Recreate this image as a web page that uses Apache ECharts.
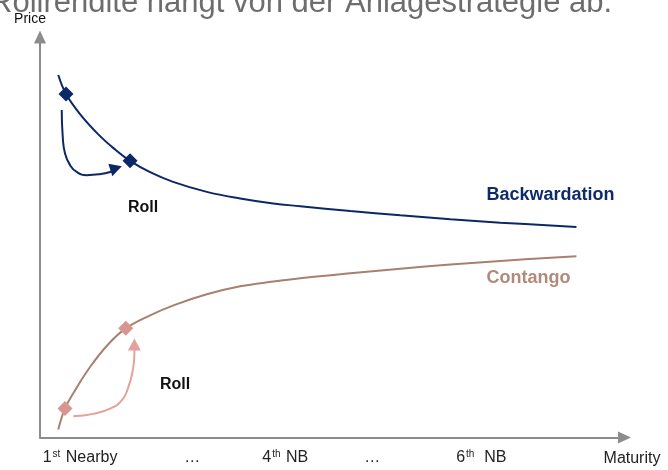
<!DOCTYPE html>
<html>
<head>
<meta charset="utf-8">
<script src="https://cdn.jsdelivr.net/npm/echarts@6/dist/echarts.min.js"></script>
<style>
html,body{margin:0;padding:0;background:#fff;}
#c{width:668px;height:470px;}
</style>
</head>
<body>
<div id="c"></div>
<script>
const titleText = 'Rollrendite hängt von der Anlagestrategie ab.';
const yAxisName = 'Price';
const xAxisName = 'Maturity';
const tickLabels = ['1{sup|st} Nearby', '…', '4{sup|th} NB', '…', '6{sup|th}  NB'];
const tickValues = [6.85, 26.03, 41.95, 56.85, 75.51];

const backwardation = [[3.13,90.5],[4.45,85.75],[6.85,80.75],[9.93,75.75],[12.67,72.13],[15.41,69.08],[18.84,66.25],[22.77,63.83],[28.54,61.33],[34.25,59.68],[39.90,58.43],[44.52,57.75],[53.08,56.55],[61.64,55.48],[70.21,54.5],[78.77,53.65],[91.78,52.58]];
const contango = [[3.13,2.0],[4.28,7.25],[5.99,11.75],[8.56,17.6],[11.64,23.23],[14.67,27.25],[18.84,30.5],[22.83,33.0],[28.54,35.75],[34.25,37.75],[39.95,38.93],[44.52,39.75],[53.08,41.0],[61.64,42.15],[70.21,43.18],[78.77,44.1],[91.78,45.28]];
const backwardationMarkers = [[4.45,85.75],[15.41,69.08]];
const contangoMarkers = [[4.28,7.25],[14.67,27.25]];
const rollBackwardation = [[3.72,81.75],[3.89,75.1],[4.28,70.9],[5.14,68.0],[6.28,66.3],[8.0,65.5],[10.27,65.75],[11.99,66.3],[13.01,67.0]];
const rollContango = [[5.70,5.3],[9.13,5.9],[11.99,7.2],[13.99,9.25],[15.12,12.6],[15.87,16.75],[16.15,20.9],[16.15,23.25]];
const arrowHeads = [[13.01,67.25,-72],[16.15,23.25,0]];
const annotationTexts = ['Backwardation', 'Contango', 'Roll', 'Roll'];
const annotationAnchors = [[87.33,60.5],[83.56,39.8],[17.64,57.5],[23.12,13.25]];

const FONT = '"Liberation Sans", Arial, sans-serif';
const NAVY = '#0b2766';
const BROWN = '#a9806f';
const PINK = '#d9958f';
const PINK_LIGHT = '#e3a29d';
const AXIS = '#8c8c8c';
const annotationStyles = [
  {color: '#0f2a68', fontSize: 18},
  {color: '#b08a7b', fontSize: 18},
  {color: '#111', fontSize: 16},
  {color: '#111', fontSize: 16}
];

const chart = echarts.init(document.getElementById('c'), null, {renderer: 'canvas'});
chart.setOption({
  animation: false,
  backgroundColor: '#fff',
  title: {
    text: titleText,
    left: -10,
    top: -12,
    padding: 0,
    textStyle: {fontFamily: FONT, fontSize: 31, fontWeight: 'normal', color: '#6d6d6d'}
  },
  grid: {left: 40, right: 43.5, top: 37, bottom: 32.5, containLabel: false},
  xAxis: {
    type: 'value', min: 0, max: 100,
    name: xAxisName, nameLocation: 'end', nameGap: 7.5,
    nameTextStyle: {fontFamily: FONT, fontSize: 16, color: '#222', align: 'center', verticalAlign: 'top', padding: [13, 0, 0, 0]},
    axisLine: {show: true, lineStyle: {color: AXIS, width: 2}, symbol: ['none', 'triangle'], symbolSize: [12, 13]},
    axisTick: {show: false},
    splitLine: {show: false},
    axisLabel: {
      show: true,
      customValues: tickValues,
      margin: 12,
      fontFamily: FONT, fontSize: 16, color: '#222',
      formatter: function (v) {
        let best = 0, d = Infinity;
        tickValues.forEach(function (t, i) { if (Math.abs(t - v) < d) { d = Math.abs(t - v); best = i; } });
        return tickLabels[best];
      },
      rich: {
        sup: {fontFamily: FONT, fontSize: 10, color: '#222', verticalAlign: 'top', padding: [0, 1, 0, 1]}
      }
    }
  },
  yAxis: {
    type: 'value', min: 0, max: 100,
    name: yAxisName, nameLocation: 'end', nameGap: 11,
    nameTextStyle: {fontFamily: FONT, fontSize: 14, color: '#111', padding: [0, 20, 0, 0]},
    axisLine: {show: true, lineStyle: {color: AXIS, width: 2}, symbol: ['none', 'triangle'], symbolSize: [12, 13]},
    axisTick: {show: false},
    splitLine: {show: false},
    axisLabel: {show: false}
  },
  series: [
    {type: 'line', name: 'Backwardation', data: backwardation, smooth: 0.4, showSymbol: false, symbol: 'none',
     lineStyle: {color: NAVY, width: 2}, z: 2},
    {type: 'line', name: 'Contango', data: contango, smooth: 0.4, showSymbol: false, symbol: 'none',
     lineStyle: {color: BROWN, width: 2}, z: 2},
    {type: 'line', name: 'Roll B', data: rollBackwardation, smooth: 0.5, symbol: 'none',
     lineStyle: {color: NAVY, width: 2}, z: 2},
    {type: 'line', name: 'Roll C', data: rollContango, smooth: 0.5, symbol: 'none',
     lineStyle: {color: PINK_LIGHT, width: 2}, z: 2},
    {type: 'scatter', data: arrowHeads.map(function (a, i) {
        return {value: [a[0], a[1]], symbolRotate: a[2], itemStyle: {color: i === 0 ? NAVY : PINK_LIGHT, opacity: 1}};
      }), symbol: 'triangle', symbolSize: [13, 12], itemStyle: {opacity: 1}, z: 3},
    {type: 'scatter', data: backwardationMarkers, symbol: 'diamond', symbolSize: 15,
     itemStyle: {color: NAVY, opacity: 1}, z: 4},
    {type: 'scatter', data: contangoMarkers, symbol: 'diamond', symbolSize: 15,
     itemStyle: {color: PINK, opacity: 1}, z: 4},
    {type: 'scatter', symbolSize: 1, itemStyle: {color: 'rgba(0,0,0,0)', opacity: 1}, z: 5,
     data: annotationAnchors.map(function (p, i) {
       return {value: p, label: {show: true, position: 'inside', formatter: annotationTexts[i],
         fontFamily: FONT, fontWeight: 'bold', fontSize: annotationStyles[i].fontSize, color: annotationStyles[i].color}};
     })}
  ]
});
</script>
</body>
</html>
